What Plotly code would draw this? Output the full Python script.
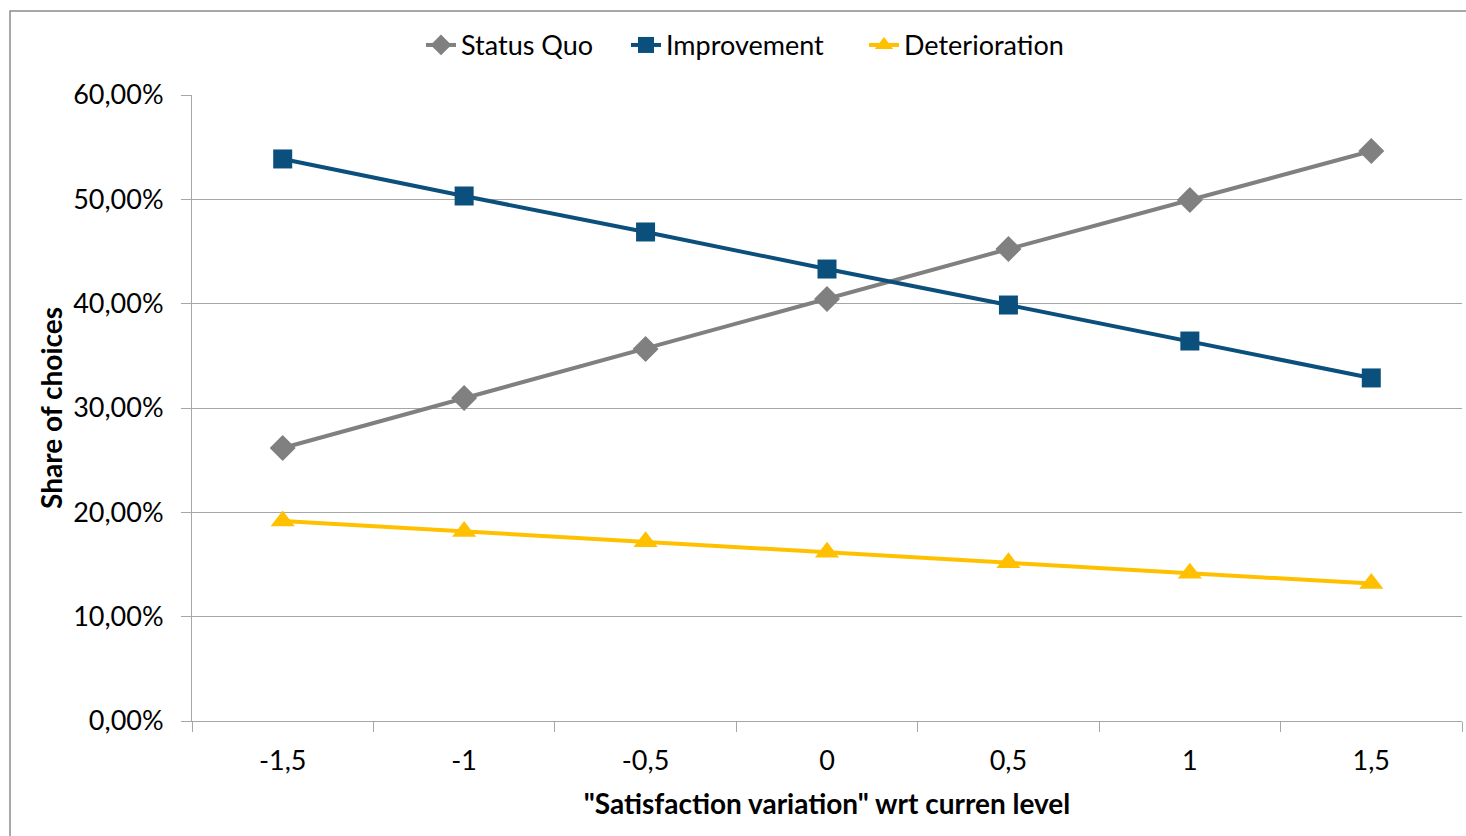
import plotly.graph_objects as go

# Satisfaction variation relative to the current level
categories = ["-1,5", "-1", "-0,5", "0", "0,5", "1", "1,5"]

# Share of choices per alternative
status_quo = [0.2617, 0.3096, 0.3566, 0.4045, 0.4524, 0.4994, 0.5463]
improvement = [0.5387, 0.5032, 0.4687, 0.4332, 0.3987, 0.3642, 0.3288]
deterioration = [0.1917, 0.1817, 0.1717, 0.1617, 0.1517, 0.1417, 0.1317]

FONT = "Lato, 'Open Sans', sans-serif"
GRID = "#A6A6A6"

fig = go.Figure()
fig.add_trace(go.Scatter(
    x=categories, y=status_quo, name="Status Quo", mode="lines+markers",
    line=dict(color="#808080", width=4),
    marker=dict(symbol="diamond", size=20, color="#808080"),
    legend="legend",
))
fig.add_trace(go.Scatter(
    x=categories, y=improvement, name="Improvement", mode="lines+markers",
    line=dict(color="#0B507D", width=4),
    marker=dict(symbol="square", size=19, color="#0B507D"),
    legend="legend2",
))
fig.add_trace(go.Scatter(
    x=categories, y=deterioration, name="Deterioration", mode="lines+markers",
    line=dict(color="#FFC000", width=4),
    marker=dict(symbol="triangle-up", size=21, color="#FFC000"),
    legend="legend3",
))


def legend_at(px):
    return dict(
        orientation="h", xref="container", yref="container",
        x=px / 1466, y=0.975, xanchor="left", yanchor="top",
        font=dict(family=FONT, size=27), itemwidth=30,
        bgcolor="rgba(0,0,0,0)",
    )


fig.update_layout(
    width=1466, height=836,
    margin=dict(l=192, r=4, t=95, b=115),
    paper_bgcolor="white", plot_bgcolor="white",
    separators=", ",
    font=dict(family=FONT, size=27, color="#000000"),
    showlegend=True,
    legend=legend_at(421),
    legend2=legend_at(626),
    legend3=legend_at(864),
    xaxis=dict(
        type="category", range=[-0.5, 6.5],
        tickson="boundaries", ticks="outside", ticklen=10,
        tickcolor=GRID, tickwidth=1, showline=True, linecolor=GRID, linewidth=1,
        showgrid=False, zeroline=False, tickfont=dict(size=27),
        ticklabelstandoff=16,
        title=dict(text="<b>\"Satisfaction variation\" wrt curren level</b>",
                   font=dict(size=28), standoff=18),
    ),
    yaxis=dict(
        range=[0, 0.6], dtick=0.1, tickformat=".2%",
        ticks="outside", ticklen=10, tickcolor=GRID, tickwidth=1,
        showline=True, linecolor=GRID, linewidth=1,
        showgrid=True, gridcolor=GRID, gridwidth=1, zeroline=False,
        tickfont=dict(size=27), ticklabelstandoff=12,
        title=dict(text="<b>Share of choices</b>", font=dict(size=28), standoff=2),
    ),
)

# Chart frame
fig.add_shape(type="rect", xref="paper", yref="paper",
              x0=-0.1433, x1=1.05, y0=-0.3, y1=1.1342,
              line=dict(color="#8C8C8C", width=1.5), fillcolor="rgba(0,0,0,0)",
              layer="below")

fig.write_html("out.html")
